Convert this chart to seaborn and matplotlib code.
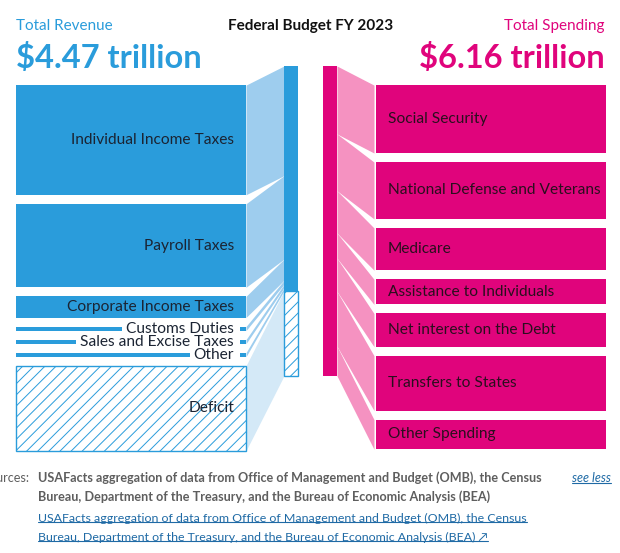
import numpy as np
import seaborn as sns
import matplotlib.pyplot as plt
from matplotlib.lines import Line2D
from matplotlib.transforms import IdentityTransform

# --- data (trillions of dollars, FY 2023) ---
revenue_labels = ['Individual Income Taxes', 'Payroll Taxes', 'Corporate Income Taxes',
                  'Customs Duties', 'Sales and Excise Taxes', 'Other']
revenue_values = [2.18, 1.66, 0.42, 0.08, 0.07, 0.06]
deficit_label = 'Deficit'
deficit_value = 1.69

spending_labels = ['Social Security', 'National Defense and Veterans', 'Medicare',
                   'Assistance to Individuals', 'Net interest on the Debt',
                   'Transfers to States', 'Other Spending']
spending_values = [1.35, 1.13, 0.84, 0.50, 0.66, 1.09, 0.59]

title = 'Federal Budget FY 2023'
revenue_title = 'Total Revenue'
spending_title = 'Total Spending'
revenue_total = '$4.47 trillion'
spending_total = '$6.16 trillion'

source_lines = ['USAFacts aggregation of data from Office of Management and Budget (OMB), the Census',
                'Bureau, Department of the Treasury, and the Bureau of Economic Analysis (BEA)']

# --- style ---
BLUE = '#2a9cdb'
BLUE_FLOW = '#9ecdee'
BLUE_DEF = '#d4e9f7'
PINK = '#e0047c'
PINK_FLOW = '#f592c1'
TXT = '#1b2433'
GREY = '#5e5e5e'
LINK = '#1f6aa5'

sns.set_theme(style='white')
plt.rcParams['font.family'] = ['Lato', 'DejaVu Sans']
plt.rcParams['hatch.linewidth'] = 0.7

W, H = 620, 553
PX_PER_T = 50.3          # pixels per trillion
Y0 = 66                  # pixel row of the middle bars' top
BOX_TOP = 0.38
GAP = 0.18
MIN_H = 0.08
FS = 11.2

fig = plt.figure(figsize=(W / 100, H / 100), dpi=100)
ax = fig.add_axes([0, 0, 1, 1])
ax.set_xlim(0, W)
ax.set_ylim((H - Y0) / PX_PER_T, -Y0 / PX_PER_T)
ax.axis('off')


def stack(values, top):
    tops, heights = [], []
    y = top
    for v in values:
        h = max(v, MIN_H)
        tops.append(y)
        heights.append(h)
        y += h + GAP
    return np.array(tops), np.array(heights)


def fy(px):
    return 1 - px / H


# ---------------- revenue side ----------------
left_vals = revenue_values + [deficit_value]
left_tops, left_h = stack(left_vals, BOX_TOP)
bar_cum = np.concatenate([[0], np.cumsum(left_vals)])
n_rev = len(revenue_values)

for i, v in enumerate(left_vals):
    c = BLUE_DEF if i == n_rev else BLUE_FLOW
    ax.fill_between([246, 284], [left_tops[i], bar_cum[i]],
                    [left_tops[i] + left_h[i], bar_cum[i + 1]], color=c, lw=0)

small_rows = []
for i, (lab, v) in enumerate(zip(revenue_labels, revenue_values)):
    t = ax.text(234, left_tops[i] + left_h[i] / 2, lab, ha='right', va='center',
                fontsize=FS, color=TXT, zorder=5)
    if v > MIN_H:
        ax.bar(16, left_h[i], width=230, bottom=left_tops[i], align='edge', color=BLUE, lw=0)
    else:
        small_rows.append((t, i))

# deficit box
ax.bar(16, left_h[-1], width=230, bottom=left_tops[-1], align='edge',
       facecolor='white', edgecolor=BLUE, hatch='///', lw=1)
ax.text(234, left_tops[-1] + left_h[-1] / 2, deficit_label, ha='right', va='center',
        fontsize=FS, color=TXT, zorder=5)

# middle revenue bar
ax.bar(284, sum(revenue_values), width=14, bottom=0, align='edge', color=BLUE, lw=0)
ax.bar(284, deficit_value, width=14, bottom=sum(revenue_values), align='edge',
       facecolor='white', edgecolor=BLUE, hatch='///', lw=1)

# ---------------- spending side ----------------
right_tops, right_h = stack(spending_values, BOX_TOP)
sp_cum = np.concatenate([[0], np.cumsum(spending_values)])
ax.bar(323, sp_cum[-1], width=14, bottom=0, align='edge', color=PINK, lw=0)
for i, (lab, v) in enumerate(zip(spending_labels, spending_values)):
    ax.fill_between([337, 374], [sp_cum[i], right_tops[i]],
                    [sp_cum[i + 1], right_tops[i] + right_h[i]], color=PINK_FLOW, lw=0)
    ax.bar(376, right_h[i], width=230, bottom=right_tops[i], align='edge', color=PINK, lw=0)
    ax.text(388, right_tops[i] + right_h[i] / 2, lab, ha='left', va='center',
            fontsize=FS, color='#2a0f1e')

# ---------------- header ----------------
fig.text(16 / W, fy(26), revenue_title, ha='left', va='center', fontsize=11, color=BLUE)
fig.text(16 / W, fy(58), revenue_total, ha='left', va='center', fontsize=23.5,
         fontweight='bold', color=BLUE)
fig.text(311 / W, fy(26), title, ha='center', va='center', fontsize=11,
         fontweight='bold', color='#111111')
fig.text(605 / W, fy(26), spending_title, ha='right', va='center', fontsize=11, color=PINK)
fig.text(605 / W, fy(58), spending_total, ha='right', va='center', fontsize=23.5,
         fontweight='bold', color=PINK)

# ---------------- footer ----------------
fig.text(30 / W, fy(478), 'Sources:', ha='right', va='center', fontsize=9.1, color=GREY)
fig.text(38 / W, fy(478), source_lines[0], ha='left', va='center', fontsize=9.1,
         fontweight='bold', color=GREY)
fig.text(38 / W, fy(497), source_lines[1], ha='left', va='center', fontsize=9.1,
         fontweight='bold', color=GREY)
links = [fig.text(38 / W, fy(518), source_lines[0], ha='left', va='center',
                  fontsize=8.9, color=LINK),
         fig.text(38 / W, fy(537), source_lines[1] + ' \u2197', ha='left', va='center',
                  fontsize=8.9, color=LINK),
         fig.text(611 / W, fy(478), 'see less', ha='right', va='center', fontsize=9.1,
                  style='italic', color=LINK)]

# ---------------- measure texts: thin rows and underlines ----------------
fig.canvas.draw()
r = fig.canvas.get_renderer()
inv = ax.transData.inverted()
for t, i in small_rows:
    bb = t.get_window_extent(r)
    x0 = inv.transform((bb.x0, 0))[0]
    x1 = inv.transform((bb.x1, 0))[0]
    ax.bar(16, left_h[i], width=x0 - 4 - 16, bottom=left_tops[i], align='edge',
           color=BLUE, lw=0)
    ax.bar(x1 + 6, left_h[i], width=246 - (x1 + 6), bottom=left_tops[i], align='edge',
           color=BLUE, lw=0)

for t in links:
    bb = t.get_window_extent(r)
    fig.add_artist(Line2D([bb.x0, bb.x1], [bb.y0 + 1.5, bb.y0 + 1.5], lw=0.8,
                          color=LINK, transform=IdentityTransform()))

fig.savefig('out.png', dpi=100)
